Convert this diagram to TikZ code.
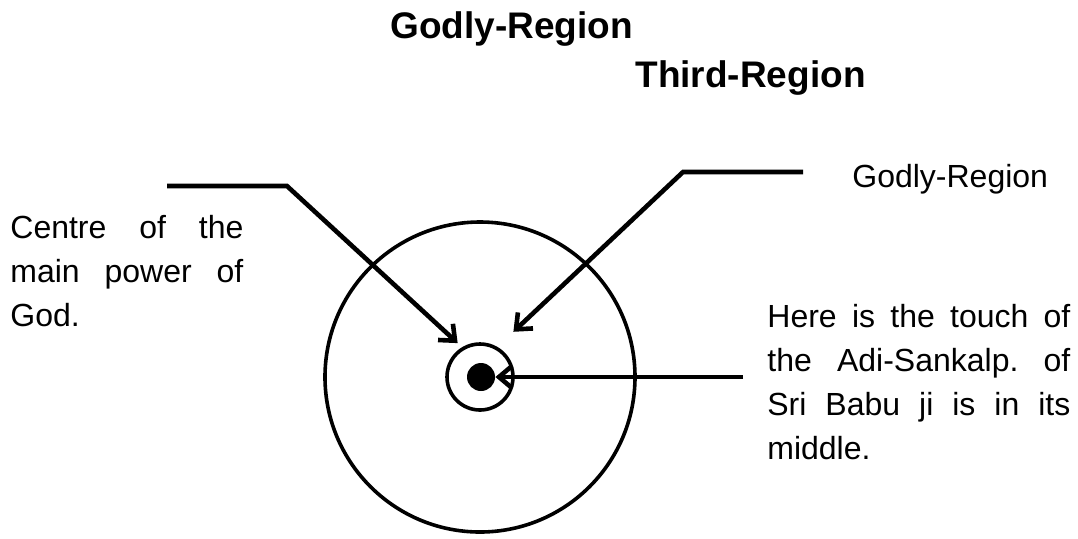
\documentclass[tikz,border=0pt]{standalone}
\usepackage{fontspec}
\setmainfont{Liberation Sans}
\usetikzlibrary{arrows.meta}
\frenchspacing

\begin{document}
\begin{tikzpicture}[
		x=0.5pt, y=-0.5pt,
		title/.style={anchor=base west, inner sep=0pt, font=\fontsize{18.5}{22}\selectfont\bfseries},
		notetext/.style={anchor=base west, inner sep=0pt, align=justify, font=\fontsize{16}{22}\selectfont\sloppy},
		ring/.style={circle, draw, line width=1.8pt, inner sep=0pt},
		pointer/.style={draw, line width=2.3pt, -{Straight Barb[length=6.5pt,width=11pt]}}
	]
	\useasboundingbox (0,0) rectangle (1078,538);

	% Titles
	\node [title] (titlegodly) at (390,38) {Godly-Region};
	\node [title] (titlethird) at (635,87) {Third-Region};

	% Regions
	\node [ring, minimum size=155pt] (outer) at (480,377) {};
	\node [ring, minimum size=33pt] (inner) at (480,377) {};
	\node [circle, fill, inner sep=0pt, minimum size=14pt] (core) at (481,377) {};

	% Notes
	\node [notetext, text width=116.5pt] (leftnote) at (10,238) {Centre of the main power of God.};
	\node [notetext] (godlynote) at (852,187) {Godly-Region};
	\node [notetext, text width=151.5pt] (rightnote) at (767,327) {Here is the touch of the Adi-Sankalp. of Sri Babu ji is in its middle.};

	% Connectors
	\coordinate (leftstart) at (167,186);
	\coordinate (leftbend) at (287,186);
	\coordinate (godlystart) at (803,172);
	\coordinate (godlybend) at (683,172);
	\coordinate (rightstart) at (743,377);

	\path [pointer, shorten >=3pt] (leftstart) -- (leftbend) -- (inner.121);
	\path [pointer, shorten >=11pt] (godlystart) -- (godlybend) -- (inner.60);
	\path [pointer] (rightstart) -- (core.east);

\end{tikzpicture}
\end{document}
